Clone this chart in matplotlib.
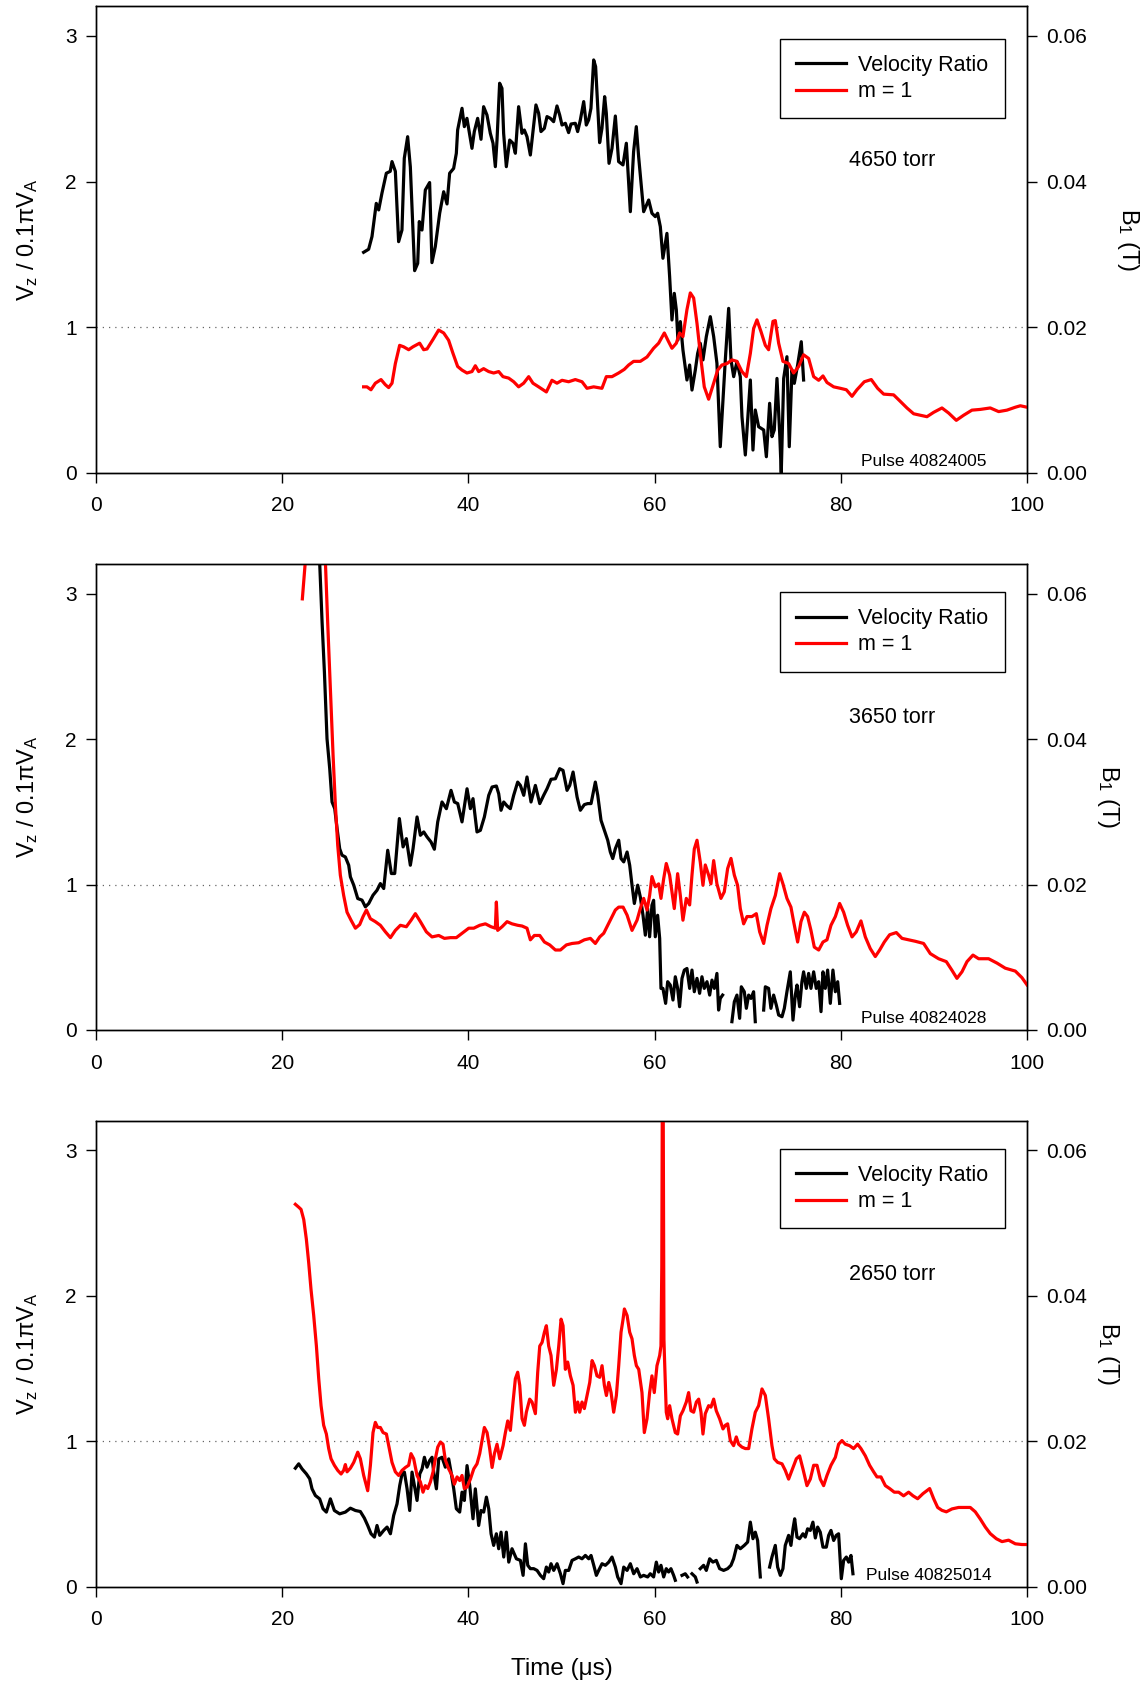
import numpy as np
import matplotlib.pyplot as plt

plt.rcParams['font.family'] = ['Liberation Sans', 'DejaVu Sans']
plt.rcParams['mathtext.fontset'] = 'custom'
plt.rcParams['mathtext.rm'] = 'Liberation Sans'
plt.rcParams['mathtext.it'] = 'Liberation Sans:italic'
plt.rcParams['mathtext.default'] = 'regular'

nan = np.nan

# ---- pulse 40824005 (4650 torr) ----
t_vel_1 = [28.74, 29.28, 29.64, 30.1, 30.36, 30.71, 31.18, 31.6, 31.79, 32.15, 32.5, 32.86, 33.11, 33.47,
           33.76, 34.22, 34.55, 34.72, 35.01, 35.37, 35.83, 36.08, 36.44, 36.91, 37.34, 37.7, 37.98, 38.41,
           38.7, 38.84, 39.31, 39.56, 39.84, 40.02, 40.38, 40.63, 40.99, 41.35, 41.63, 41.99, 42.35, 42.64,
           42.89, 43.07, 43.35, 43.6, 43.78, 44.07, 44.43, 44.78, 45.04, 45.39, 45.75, 46.0, 46.29, 46.65,
           46.93, 47.25, 47.54, 47.79, 48.15, 48.44, 48.8, 49.15, 49.51, 49.8, 50.05, 50.41, 50.76, 51.02,
           51.48, 51.73, 52.02, 52.38, 52.66, 52.91, 53.16, 53.45, 53.66, 54.09, 54.34, 54.63, 54.81, 55.1,
           55.42, 55.78, 56.13, 56.6, 56.96, 57.39, 57.74, 58.03, 58.28, 58.82, 59.36, 59.71, 60.07, 60.32,
           60.61, 60.89, 61.32, 61.61, 61.86, 62.11, 62.33, 62.5, 62.76, 63.04, 63.47, 63.76, 64.01, 64.37,
           64.62, 64.9, 65.19, 65.55, 65.98, 66.34, 66.69, 67.05, 67.34, 67.59, 67.95, 68.2, 68.49, 68.84,
           69.2, 69.38, 69.74, 69.99, 70.28, 70.56, 70.81, 71.17, 71.71, 72.0, 72.35, 72.6, 72.85, 73.14,
           73.43, 73.6, 73.86, 74.21, 74.46, 74.75, 75.0, 75.36, 75.75, 76.0]
vel_1 = [1.514, 1.535, 1.622, 1.85, 1.805, 1.92, 2.057, 2.07, 2.137, 2.07, 1.587, 1.667, 2.16, 2.308,
         2.10, 1.388, 1.438, 1.725, 1.667, 1.942, 1.993, 1.443, 1.553, 1.782, 1.93, 1.846, 2.057, 2.09,
         2.194, 2.354, 2.503, 2.377, 2.434, 2.365, 2.228, 2.343, 2.434, 2.29, 2.514, 2.457, 2.331, 2.263,
         2.102, 2.285, 2.675, 2.64, 2.331, 2.102, 2.285, 2.263, 2.194, 2.514, 2.331, 2.354, 2.308, 2.182,
         2.343, 2.526, 2.469, 2.343, 2.365, 2.446, 2.434, 2.411, 2.519, 2.457, 2.388, 2.4, 2.336, 2.395,
         2.4, 2.343, 2.423, 2.549, 2.388, 2.423, 2.503, 2.835, 2.789, 2.267, 2.365, 2.583, 2.469, 2.125,
         2.228, 2.45, 2.137, 2.114, 2.263, 1.793, 2.205, 2.377, 2.171, 1.793, 1.873, 1.782, 1.759, 1.782,
         1.69, 1.473, 1.644, 1.347, 1.049, 1.232, 1.118, 0.912, 1.038, 0.843, 0.637, 0.74, 0.568, 0.706,
         0.82, 0.889, 0.775, 0.935, 1.072, 0.935, 0.752, 0.179, 0.5, 0.775, 1.129, 0.775, 0.66, 0.763,
         0.66, 0.385, 0.122, 0.362, 0.637, 0.156, 0.431, 0.316, 0.294, 0.11, 0.477, 0.248, 0.294, 0.648,
         0.271, 0.0, 0.648, 0.797, 0.179, 0.706, 0.614, 0.74, 0.9, 0.637]

t_b1_1 = [28.74, 29.1, 29.53, 30.0, 30.61, 31.07, 31.43, 31.79, 32.15, 32.61, 33.04, 33.58, 34.04, 34.76,
          35.19, 35.55, 36.19, 36.8, 37.34, 37.87, 38.34, 38.84, 39.31, 39.84, 40.38, 40.74, 41.1, 41.63,
          42.17, 42.71, 43.25, 43.71, 44.32, 44.86, 45.39, 45.93, 46.47, 46.93, 47.54, 48.37, 48.97, 49.51,
          50.05, 50.76, 51.48, 52.2, 52.73, 53.45, 54.34, 54.81, 55.42, 56.13, 56.74, 57.21, 57.74, 58.46,
          59.18, 59.89, 60.43, 61.04, 61.5, 61.86, 62.33, 62.68, 63.04, 63.47, 63.83, 64.19, 64.55, 64.9,
          65.33, 65.8, 66.34, 66.77, 67.23, 67.77, 68.3, 68.84, 69.38, 69.85, 70.28, 70.63, 70.99, 71.42,
          71.89, 72.24, 72.71, 72.96, 73.32, 73.78, 74.39, 74.93, 75.47, 76.0, 76.54, 77.08, 77.62, 78.08,
          78.51, 79.23, 79.94, 80.59, 81.2, 81.73, 82.52, 83.27, 83.95, 84.6, 85.67, 86.39, 87.1, 87.82,
          88.53, 89.25, 89.97, 90.86, 91.58, 92.4, 93.19, 94.08, 94.98, 96.05, 96.95, 97.84, 98.74, 99.28,
          100.0]
b1_1 = [0.0118, 0.0118, 0.0114, 0.0123, 0.0128, 0.0121, 0.0117, 0.0123, 0.0150, 0.0175, 0.0173, 0.0169,
        0.0173, 0.0178, 0.0169, 0.0170, 0.0183, 0.0196, 0.0192, 0.0182, 0.0164, 0.0146, 0.0141, 0.0137,
        0.0139, 0.0147, 0.0139, 0.0143, 0.0139, 0.0137, 0.0139, 0.0132, 0.0130, 0.0125, 0.0118, 0.0123,
        0.0132, 0.0123, 0.0118, 0.0111, 0.0127, 0.0123, 0.0127, 0.0125, 0.0128, 0.0125, 0.0116, 0.0118,
        0.0116, 0.0132, 0.0132, 0.0137, 0.0142, 0.0148, 0.0153, 0.0153, 0.0159, 0.0171, 0.0178, 0.0192,
        0.0180, 0.0171, 0.0178, 0.0192, 0.0187, 0.0224, 0.0247, 0.0240, 0.0205, 0.0164, 0.0118, 0.0101,
        0.0123, 0.0141, 0.0148, 0.0150, 0.0155, 0.0153, 0.0139, 0.0132, 0.0164, 0.0198, 0.0210, 0.0194,
        0.0175, 0.0169, 0.0208, 0.0209, 0.0178, 0.0153, 0.0150, 0.0137, 0.0146, 0.0162, 0.0157, 0.0132,
        0.0127, 0.0133, 0.0124, 0.0118, 0.0116, 0.0114, 0.0105, 0.0114, 0.0125, 0.0128, 0.0116, 0.0108,
        0.0107, 0.0098, 0.0089, 0.0081, 0.0079, 0.0077, 0.0083, 0.0089, 0.0082, 0.0072, 0.0079, 0.0086,
        0.0087, 0.0089, 0.0084, 0.0086, 0.0090, 0.0092, 0.0090]

# ---- pulse 40824028 (3650 torr) ----
t_vel_2 = [23.85, 24.02, 24.28, 24.53, 24.81, 25.1, 25.35, 25.64, 25.89, 26.17, 26.42, 26.78, 27.14, 27.32,
           27.68, 28.11, 28.57, 28.93, 29.29, 29.75, 30.18, 30.54, 30.9, 31.33, 31.72, 32.08, 32.58, 32.98,
           33.33, 33.76, 34.05, 34.48, 34.84, 35.2, 35.55, 35.98, 36.34, 36.7, 37.16, 37.63, 38.13, 38.49,
           38.85, 39.31, 39.85, 40.21, 40.49, 40.92, 41.28, 41.71, 42.18, 42.54, 43.0, 43.25, 43.5, 43.79,
           44.15, 44.5, 44.86, 45.29, 45.58, 45.94, 46.29, 46.72, 47.19, 47.66, 48.08, 48.44, 48.87, 49.34,
           49.8, 50.16, 50.59, 50.88, 51.24, 51.67, 52.02, 52.45, 52.81, 53.17, 53.63, 53.89, 54.24, 54.6,
           54.96, 55.24, 55.5, 55.78, 56.14, 56.39, 56.68, 57.04, 57.32, 57.57, 57.82, 58.18, 58.46, 58.75,
           59.0, 59.25, 59.46, 59.71, 59.89, 60.07, 60.32, 60.54, 60.68, 60.89, 61.18, 61.4, 61.68, 61.97,
           62.22, 62.47, 62.68, 62.94, 63.19, 63.47, 63.76, 64.01, 64.26, 64.55, 64.83, 65.08, 65.33, 65.62,
           65.91, 66.16, 66.41, 66.69, 66.87, 67.05, 67.3, 67.8, 68.3, 68.56, 68.84, 69.13, 69.31, 69.63,
           69.85, 70.1, 70.35, 70.63, 70.81, 71.3, 71.71, 71.89, 72.24, 72.49, 72.78, 73.07, 73.32, 73.68,
           73.93, 74.21, 74.57, 74.86, 75.11, 75.29, 75.57, 75.82, 76.0, 76.29, 76.54, 76.79, 77.08, 77.36,
           77.62, 77.87, 78.08, 78.33, 78.58, 78.87, 79.15, 79.41, 79.66, 79.87]
vel_2 = [3.5, 3.216, 2.804, 2.461, 2.003, 1.797, 1.568, 1.522, 1.385, 1.247, 1.202, 1.19, 1.133, 1.053,
         0.996, 0.904, 0.893, 0.847, 0.87, 0.927, 0.961, 1.007, 0.973, 1.236, 1.076, 1.076, 1.454, 1.259,
         1.316, 1.133, 1.247, 1.465, 1.339, 1.362, 1.328, 1.293, 1.243, 1.431, 1.568, 1.522, 1.648, 1.568,
         1.557, 1.431, 1.659, 1.522, 1.591, 1.362, 1.373, 1.465, 1.614, 1.671, 1.678, 1.625, 1.511, 1.568,
         1.541, 1.522, 1.614, 1.705, 1.682, 1.614, 1.74, 1.568, 1.682, 1.557, 1.614, 1.659, 1.724, 1.728,
         1.797, 1.785, 1.648, 1.682, 1.774, 1.602, 1.511, 1.55, 1.557, 1.557, 1.705, 1.614, 1.442, 1.373,
         1.305, 1.224, 1.179, 1.247, 1.305, 1.179, 1.156, 1.224, 1.133, 0.996, 0.87, 0.996, 0.915, 0.789,
         0.652, 0.835, 0.641, 0.858, 0.892, 0.641, 0.789, 0.63, 0.286, 0.286, 0.183, 0.332, 0.309, 0.206,
         0.366, 0.286, 0.16, 0.355, 0.412, 0.423, 0.286, 0.412, 0.263, 0.355, 0.252, 0.366, 0.286, 0.332,
         0.24, 0.343, 0.286, 0.389, 0.137, 0.217, 0.24, nan, 0.057, 0.194, 0.24, 0.08, 0.297, 0.263,
         0.149, 0.24, 0.217, 0.263, 0.057, nan, 0.137, 0.297, 0.286, 0.149, 0.24, 0.171, 0.103, 0.091,
         0.149, 0.263, 0.4, 0.068, 0.24, 0.309, 0.16, 0.332, 0.4, 0.286, 0.389, 0.286, 0.4, 0.286,
         0.332, 0.126, 0.4, 0.286, 0.412, 0.183, 0.412, 0.263, 0.332, 0.183]

t_b1_2 = [22.16, 22.49, 23.6, 24.63, 24.88, 25.17, 25.46, 25.71, 25.96, 26.24, 26.6, 26.96, 27.39, 27.86,
          28.32, 28.68, 29.04, 29.47, 30.0, 30.54, 31.08, 31.62, 32.15, 32.69, 33.33, 33.84, 34.3, 34.84,
          35.48, 36.09, 36.81, 37.42, 38.06, 38.7, 39.31, 40.03, 40.57, 41.21, 41.82, 42.43, 42.89, 43.0,
          43.14, 43.61, 44.15, 44.68, 45.29, 45.76, 46.29, 46.65, 47.08, 47.66, 48.16, 48.73, 49.34, 49.88,
          50.52, 51.13, 51.84, 52.45, 53.1, 53.63, 54.1, 54.53, 54.96, 55.42, 55.78, 56.14, 56.61, 57.04,
          57.57, 58.11, 58.46, 58.82, 59.18, 59.46, 59.71, 60.07, 60.43, 60.68, 60.97, 61.25, 61.61, 61.86,
          62.11, 62.47, 62.76, 63.04, 63.4, 63.76, 64.01, 64.26, 64.55, 64.9, 65.19, 65.44, 65.8, 66.05,
          66.34, 66.69, 67.12, 67.48, 67.84, 68.2, 68.56, 68.91, 69.2, 69.56, 69.92, 70.45, 70.92, 71.28,
          71.71, 72.07, 72.49, 72.96, 73.43, 73.78, 74.21, 74.64, 74.93, 75.36, 75.72, 76.08, 76.43, 76.79,
          77.15, 77.62, 78.08, 78.51, 78.94, 79.41, 79.87, 80.3, 80.73, 81.2, 81.66, 82.16, 82.63, 83.16,
          83.7, 84.17, 84.67, 85.24, 85.96, 86.57, 87.28, 88.0, 88.89, 89.61, 90.5, 91.33, 91.94, 92.47,
          93.01, 93.55, 94.19, 94.8, 95.87, 96.77, 97.66, 98.74, 99.45, 100.0]
b1_2 = [0.0593, 0.0646, 0.0800, 0.0646, 0.0561, 0.0469, 0.0378, 0.0309, 0.0254, 0.0213, 0.0185, 0.0162,
        0.0151, 0.0140, 0.0145, 0.0156, 0.0165, 0.0153, 0.0149, 0.0144, 0.0135, 0.0127, 0.0137, 0.0144,
        0.0142, 0.0151, 0.0160, 0.0149, 0.0135, 0.0128, 0.0130, 0.0126, 0.0127, 0.0127, 0.0133, 0.0140,
        0.0140, 0.0144, 0.0146, 0.0142, 0.0140, 0.0176, 0.0137, 0.0142, 0.0149, 0.0146, 0.0144, 0.0143,
        0.0140, 0.0124, 0.0130, 0.0130, 0.0121, 0.0117, 0.0110, 0.0110, 0.0117, 0.0119, 0.0120, 0.0124,
        0.0126, 0.0119, 0.0128, 0.0133, 0.0144, 0.0156, 0.0165, 0.0169, 0.0169, 0.0158, 0.0137, 0.0151,
        0.0167, 0.0181, 0.0165, 0.0185, 0.0211, 0.0197, 0.0201, 0.0181, 0.0208, 0.0229, 0.0213, 0.0190,
        0.0167, 0.0215, 0.0185, 0.0151, 0.0181, 0.0172, 0.0213, 0.0249, 0.0261, 0.0231, 0.0199, 0.0227,
        0.0213, 0.0201, 0.0233, 0.0201, 0.0181, 0.0190, 0.0222, 0.0236, 0.0213, 0.0199, 0.0167, 0.0146,
        0.0156, 0.0156, 0.0160, 0.0135, 0.0119, 0.0144, 0.0167, 0.0185, 0.0215, 0.0201, 0.0181, 0.0169,
        0.0149, 0.0121, 0.0149, 0.0162, 0.0156, 0.0137, 0.0114, 0.0110, 0.0121, 0.0124, 0.0144, 0.0156,
        0.0174, 0.0162, 0.0144, 0.0128, 0.0135, 0.0150, 0.0128, 0.0112, 0.0101, 0.0110, 0.0121, 0.0131,
        0.0134, 0.0126, 0.0124, 0.0122, 0.0119, 0.0105, 0.0098, 0.0094, 0.0082, 0.0071, 0.0080, 0.0094,
        0.0103, 0.0098, 0.0098, 0.0092, 0.0085, 0.0081, 0.0072, 0.0062]

# ---- pulse 40825014 (2650 torr) ----
t_vel_3 = [21.41, 21.77, 22.13, 22.59, 22.95, 23.2, 23.56, 24.02, 24.38, 24.74, 25.17, 25.6, 26.17, 26.78,
           27.32, 27.86, 28.39, 28.82, 29.18, 29.54, 29.9, 30.18, 30.47, 30.9, 31.26, 31.62, 31.97, 32.33,
           32.62, 32.87, 33.12, 33.41, 33.69, 33.94, 34.19, 34.48, 34.77, 35.02, 35.27, 35.55, 35.84, 36.09,
           36.27, 36.56, 36.81, 37.16, 37.52, 37.88, 38.13, 38.42, 38.7, 39.06, 39.31, 39.56, 39.85, 40.14,
           40.49, 40.74, 41.1, 41.35, 41.64, 41.93, 42.18, 42.43, 42.71, 43.0, 43.25, 43.5, 43.79, 44.07,
           44.33, 44.68, 45.15, 45.58, 45.87, 46.12, 46.37, 46.65, 47.01, 47.37, 47.73, 48.08, 48.37, 48.62,
           48.87, 49.16, 49.52, 49.88, 50.16, 50.41, 50.77, 51.13, 51.49, 51.84, 52.2, 52.56, 52.92, 53.17,
           53.46, 53.74, 53.99, 54.35, 54.71, 55.07, 55.42, 55.78, 56.03, 56.39, 56.68, 57.04, 57.39, 57.75,
           58.11, 58.47, 58.82, 59.25, 59.53, 59.89, 60.18, 60.43, 60.68, 60.97, 61.25, 61.5, 61.75, 62.04,
           62.22, 62.6, 62.94, 63.29, 63.54, 63.8, 64.01, 64.37, 64.55, 64.7, 64.9, 65.26, 65.55, 65.91,
           66.26, 66.62, 66.98, 67.41, 67.84, 68.2, 68.48, 68.84, 69.2, 69.63, 69.99, 70.28, 70.56, 70.81,
           71.06, 71.35, 71.8, 72.35, 72.6, 72.96, 73.21, 73.5, 73.78, 74.03, 74.39, 74.64, 74.86, 75.04,
           75.29, 75.57, 75.93, 76.18, 76.43, 76.72, 77.0, 77.26, 77.51, 77.79, 78.08, 78.44, 78.69, 78.94,
           79.23, 79.51, 79.76, 80.05, 80.3, 80.59, 80.84, 81.09, 81.3]
vel_3 = [0.815, 0.845, 0.81, 0.776, 0.742, 0.673, 0.627, 0.604, 0.536, 0.513, 0.604, 0.524, 0.501, 0.513,
         0.54, 0.524, 0.517, 0.472, 0.421, 0.364, 0.341, 0.421, 0.353, 0.387, 0.41, 0.364, 0.49, 0.57,
         0.696, 0.776, 0.788, 0.673, 0.524, 0.788, 0.696, 0.593, 0.776, 0.81, 0.89, 0.822, 0.868, 0.89,
         0.788, 0.673, 0.879, 0.89, 0.822, 0.879, 0.788, 0.673, 0.536, 0.513, 0.65, 0.593, 0.833, 0.696,
         0.467, 0.673, 0.421, 0.524, 0.513, 0.616, 0.536, 0.364, 0.284, 0.364, 0.261, 0.375, 0.204, 0.375,
         0.169, 0.261, 0.192, 0.181, 0.078, 0.295, 0.147, 0.124, 0.124, 0.112, 0.078, 0.055, 0.135, 0.101,
         0.158, 0.112, 0.158, 0.089, 0.021, 0.112, 0.112, 0.181, 0.192, 0.204, 0.192, 0.215, 0.192, 0.215,
         0.147, 0.078, 0.112, 0.158, 0.147, 0.169, 0.204, 0.135, 0.067, 0.021, 0.135, 0.112, 0.158, 0.089,
         0.124, 0.067, 0.078, 0.067, 0.089, 0.067, 0.169, 0.101, 0.147, 0.067, 0.124, 0.101, 0.124, 0.078,
         0.044, nan, 0.078, 0.089, 0.067, nan, 0.089, 0.067, 0.032, nan, 0.124, 0.147, 0.112, 0.192,
         0.169, 0.181, 0.124, 0.112, 0.124, 0.147, 0.192, 0.284, 0.261, 0.284, 0.307, 0.444, 0.33, 0.375,
         0.318, 0.067, nan, 0.135, 0.204, 0.284, 0.135, 0.078, 0.124, 0.284, 0.353, 0.284, 0.398, 0.467,
         0.341, 0.33, 0.364, 0.341, 0.398, 0.387, 0.444, 0.335, 0.41, 0.375, 0.272, 0.272, 0.353, 0.387,
         0.318, 0.353, 0.364, 0.055, 0.181, 0.204, 0.169, 0.215, 0.089]

t_b1_3 = [21.41, 21.77, 22.02, 22.31, 22.59, 22.84, 23.09, 23.38, 23.67, 23.92, 24.17, 24.45, 24.74, 24.99,
          25.24, 25.6, 25.96, 26.32, 26.6, 26.78, 26.96, 27.32, 27.68, 28.11, 28.39, 28.75, 29.18, 29.47,
          29.75, 30.0, 30.25, 30.54, 30.83, 31.19, 31.44, 31.79, 32.15, 32.51, 32.87, 33.23, 33.58, 33.83,
          34.12, 34.48, 34.84, 35.12, 35.37, 35.63, 35.91, 36.2, 36.45, 36.7, 36.99, 37.27, 37.52, 37.88,
          38.24, 38.49, 38.78, 39.06, 39.31, 39.56, 39.85, 40.21, 40.57, 40.92, 41.21, 41.46, 41.71, 42.0,
          42.28, 42.54, 42.79, 43.07, 43.36, 43.72, 43.97, 44.22, 44.5, 44.79, 45.04, 45.29, 45.51, 45.76,
          46.01, 46.22, 46.58, 46.83, 47.19, 47.44, 47.66, 47.91, 48.16, 48.37, 48.62, 48.87, 49.16, 49.45,
          49.7, 49.95, 50.16, 50.41, 50.66, 50.95, 51.24, 51.49, 51.74, 51.95, 52.2, 52.45, 52.74, 53.03,
          53.28, 53.53, 53.81, 54.1, 54.35, 54.6, 54.82, 55.07, 55.32, 55.6, 55.89, 56.14, 56.39, 56.61,
          56.75, 57.04, 57.32, 57.57, 57.82, 58.04, 58.29, 58.64, 58.89, 59.18, 59.46, 59.71, 59.96, 60.25,
          60.54, 60.68, 60.77, 60.82, 60.92, 61.0, 61.04, 61.25, 61.4, 61.61, 61.86, 62.22, 62.47, 62.76,
          63.04, 63.4, 63.65, 63.9, 64.19, 64.48, 64.73, 64.98, 65.19, 65.44, 65.8, 66.05, 66.34, 66.62,
          66.98, 67.34, 67.59, 67.84, 68.13, 68.48, 68.77, 69.02, 69.38, 69.74, 70.1, 70.45, 70.81, 71.17,
          71.53, 71.89, 72.24, 72.6, 72.85, 73.21, 73.68, 74.03, 74.39, 74.75, 75.22, 75.57, 75.93, 76.36,
          76.72, 77.08, 77.44, 77.79, 78.15, 78.51, 78.94, 79.41, 79.76, 80.12, 80.48, 80.94, 81.37, 81.8,
          82.16, 82.63, 83.09, 83.52, 83.88, 84.31, 84.78, 85.24, 85.74, 86.21, 86.74, 87.28, 87.75, 88.25,
          88.82, 89.54, 89.97, 90.4, 90.86, 91.33, 91.94, 92.65, 93.37, 93.9, 94.44, 94.98, 95.52, 96.05,
          96.7, 97.31, 98.02, 98.74, 99.45, 100.0]
b1_3 = [0.0526, 0.0522, 0.0519, 0.0505, 0.0478, 0.0446, 0.0409, 0.0373, 0.0331, 0.0286, 0.0249, 0.0222,
        0.0210, 0.0190, 0.0176, 0.0167, 0.0160, 0.0155, 0.0160, 0.0168, 0.0158, 0.0163, 0.0171, 0.0185,
        0.0176, 0.0153, 0.0132, 0.0167, 0.0212, 0.0226, 0.0219, 0.0219, 0.0212, 0.0210, 0.0194, 0.0171,
        0.0158, 0.0153, 0.0160, 0.0164, 0.0167, 0.0183, 0.0176, 0.0153, 0.0144, 0.0130, 0.0139, 0.0135,
        0.0144, 0.0158, 0.0176, 0.0192, 0.0199, 0.0196, 0.0174, 0.0162, 0.0153, 0.0141, 0.0151, 0.0146,
        0.0153, 0.0135, 0.0137, 0.0148, 0.0162, 0.0169, 0.0183, 0.0201, 0.0219, 0.0212, 0.0190, 0.0164,
        0.0183, 0.0196, 0.0176, 0.0194, 0.0212, 0.0228, 0.0215, 0.0254, 0.0286, 0.0295, 0.0277, 0.0231,
        0.0222, 0.0240, 0.0258, 0.0254, 0.0238, 0.0295, 0.0331, 0.0336, 0.0350, 0.0359, 0.0331, 0.0318,
        0.0277, 0.0299, 0.0331, 0.0368, 0.0359, 0.0299, 0.0309, 0.0290, 0.0277, 0.0240, 0.0254, 0.0240,
        0.0254, 0.0245, 0.0263, 0.0281, 0.0311, 0.0304, 0.0290, 0.0288, 0.0304, 0.0277, 0.0263, 0.0281,
        0.0267, 0.0240, 0.0263, 0.0304, 0.0350, 0.0368, 0.0382, 0.0373, 0.0350, 0.0341, 0.0318, 0.0304,
        0.0299, 0.0267, 0.0212, 0.0231, 0.0267, 0.0290, 0.0267, 0.0304, 0.0318, 0.0331, 0.0440, 0.0660,
        0.0660, 0.0340, 0.0322, 0.0240, 0.0231, 0.0249, 0.0231, 0.0212, 0.0210, 0.0235, 0.0242, 0.0254,
        0.0267, 0.0242, 0.0240, 0.0254, 0.0258, 0.0240, 0.0210, 0.0238, 0.0249, 0.0247, 0.0258, 0.0242,
        0.0231, 0.0217, 0.0222, 0.0224, 0.0201, 0.0194, 0.0206, 0.0196, 0.0192, 0.0190, 0.0190, 0.0217,
        0.0240, 0.0249, 0.0272, 0.0263, 0.0231, 0.0194, 0.0176, 0.0171, 0.0169, 0.0160, 0.0148, 0.0160,
        0.0176, 0.0180, 0.0162, 0.0139, 0.0148, 0.0167, 0.0167, 0.0148, 0.0139, 0.0153, 0.0167, 0.0178,
        0.0196, 0.0201, 0.0196, 0.0194, 0.0190, 0.0196, 0.0190, 0.0180, 0.0167, 0.0158, 0.0151, 0.0151,
        0.0139, 0.0135, 0.0130, 0.0130, 0.0125, 0.0130, 0.0125, 0.0121, 0.0128, 0.0135, 0.0121, 0.0109,
        0.0105, 0.0103, 0.0107, 0.0109, 0.0109, 0.0109, 0.0103, 0.0093, 0.0082, 0.0073, 0.0066, 0.0062,
        0.0064, 0.0059, 0.0058, 0.0058]

panels = [
    (t_vel_1, vel_1, t_b1_1, b1_1, '4650 torr', 'Pulse 40824005'),
    (t_vel_2, vel_2, t_b1_2, b1_2, '3650 torr', 'Pulse 40824028'),
    (t_vel_3, vel_3, t_b1_3, b1_3, '2650 torr', 'Pulse 40825014'),
]

fig = plt.figure(figsize=(11.46, 16.86), dpi=100)
bottoms = [0.7196, 0.3891, 0.0589]
heights = [0.2768, 0.2764, 0.2764]
rlabel_x = [1.108, 1.087, 1.087]
leg_top = [0.930, 0.940, 0.940]
pulse_x = [0.889, 0.889, 0.894]

for i, (tv, v, tb, b, torr, pulse) in enumerate(panels):
    ax = fig.add_axes([0.0838, bottoms[i], 0.8124, heights[i]])
    ax2 = ax.twinx()

    ax.axhline(1, color='#666666', lw=0.9, ls=(0, (1, 4)))
    l1, = ax.plot(tv, v, color='black', lw=2.3, label='Velocity Ratio')
    l2, = ax2.plot(tb, b, color='#ff0000', lw=2.3, label='m = 1')

    ax.set_xlim(0, 100)
    ax.set_ylim(0, 3.205)
    ax2.set_ylim(0, 0.0641)
    ax.set_xticks([0, 20, 40, 60, 80, 100])
    ax.set_yticks([0, 1, 2, 3])
    ax2.set_yticks([0, 0.02, 0.04, 0.06])
    ax2.set_yticklabels(['0.00', '0.02', '0.04', '0.06'])

    for a in (ax, ax2):
        for s in a.spines.values():
            s.set_linewidth(1.0)
        a.tick_params(direction='out', length=7, width=1.0, labelsize=15)
    ax.tick_params(axis='x', pad=10)
    ax.tick_params(axis='y', pad=7)
    ax2.tick_params(axis='y', pad=7)

    ax.set_ylabel(r'V$_z$ / 0.1$\pi$V$_A$', fontsize=17, rotation=90, va='center')
    ax.yaxis.set_label_coords(-0.074, 0.5)
    ax2.set_ylabel(r'B$_1$ (T)', fontsize=17, rotation=270, va='center')
    ax2.yaxis.set_label_coords(rlabel_x[i], 0.5)

    leg = ax2.legend([l1, l2], ['Velocity Ratio', 'm = 1'], loc='upper right',
                     bbox_to_anchor=(0.976, leg_top[i]), borderaxespad=0, fontsize=15.5,
                     fancybox=False, edgecolor='black', framealpha=1, handlelength=2.3,
                     handletextpad=0.6, labelspacing=0.25, borderpad=0.75)
    leg.get_frame().set_linewidth(1.0)

    ax2.text(0.855, 0.67, torr, transform=ax.transAxes, fontsize=15.5, ha='center', va='center')
    ax2.text(pulse_x[i], 0.025, pulse, transform=ax.transAxes, fontsize=12.5, ha='center', va='center')

    if i == 2:
        ax.set_xlabel('Time (μs)', fontsize=17.5)
        ax.xaxis.set_label_coords(0.5, -0.152)

fig.savefig('out.png', dpi=100)
